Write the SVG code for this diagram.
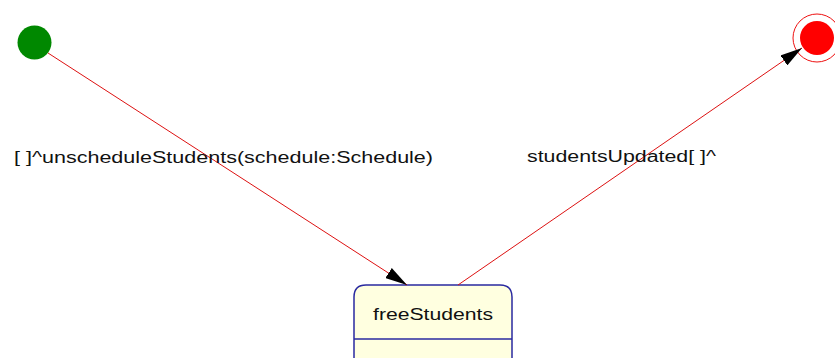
<svg xmlns="http://www.w3.org/2000/svg" width="835" height="358" viewBox="0 0 835 358">
<style>
.edge{stroke:#dd1111;stroke-width:1;fill:none}
.lbl{font-family:"Liberation Sans",Arial,sans-serif;font-size:16px;fill:#111}
.state{fill:#ffffe0;stroke:#2a2aa0;stroke-width:1.5}
</style>
<defs>
<marker id="arr" viewBox="0 0 22 12" refX="22" refY="6" markerWidth="22" markerHeight="12" markerUnits="userSpaceOnUse" orient="auto">
<path d="M0,0 L22,6 L0,12 Z" fill="#000"/>
</marker>
</defs>
<rect width="835" height="358" fill="#fff"/>
<g id="start">
<circle cx="34.5" cy="42.5" r="17" fill="#008800"/>
</g>
<g id="end">
<circle cx="817" cy="38" r="24" fill="none" stroke="#ee1111" stroke-width="1"/>
<circle cx="817" cy="38" r="17" fill="#ff0000"/>
</g>
<g id="freeStudents">
<path class="state" d="M354,360 L354,297 Q354,285 366,285 L500,285 Q512,285 512,297 L512,360"/>
<line x1="354" y1="339" x2="512" y2="339" stroke="#2a2aa0" stroke-width="1.5"/>
<text class="lbl" x="433" y="320" text-anchor="middle" textLength="120" lengthAdjust="spacingAndGlyphs">freeStudents</text>
</g>
<g id="connectors">
<line class="edge" x1="48" y1="53" x2="407" y2="285" marker-end="url(#arr)"/>
<line class="edge" x1="458" y1="285" x2="802" y2="48" marker-end="url(#arr)"/>
<text class="lbl" x="14" y="163" textLength="419" lengthAdjust="spacingAndGlyphs">[ ]^unscheduleStudents(schedule:Schedule)</text>
<text class="lbl" x="527" y="162" textLength="189" lengthAdjust="spacingAndGlyphs">studentsUpdated[ ]^</text>
</g>
</svg>
